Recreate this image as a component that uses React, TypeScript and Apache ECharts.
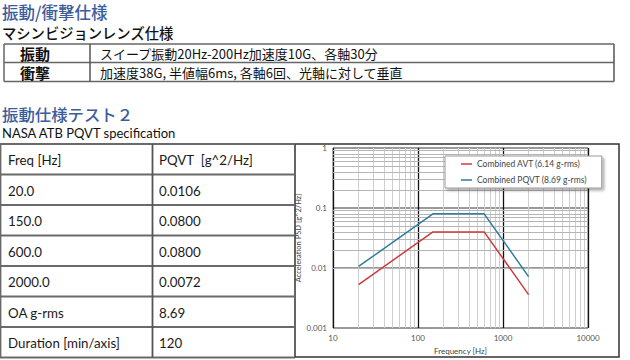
import React, { useEffect, useRef } from "react";
import * as echarts from "echarts";

// ---- data ----
const specTitle = "振動/衝撃仕様";
const specSubtitle = "マシンビジョンレンズ仕様";
const specLabels = ["振動", "衝撃"];
const specValues = [
  "スイープ振動20Hz-200Hz加速度10G、各軸30分",
  "加速度38G, 半値幅6ms, 各軸6回、光軸に対して垂直",
];
const testTitle = "振動仕様テスト２";
const testSubtitle = "NASA ATB PQVT specification";
const tableHeader = ["Freq [Hz]", "PQVT  [g^2/Hz]"];
const freqs = [20, 150, 600, 2000];
const pqvt = [0.0106, 0.08, 0.08, 0.0072];
const avt = [0.0053, 0.04, 0.04, 0.0036];
const oaGrms = 8.69;
const avtGrms = 6.14;
const durationMin = 120;
const xTicks = [10, 100, 1000, 10000];
const yTicks = [0.001, 0.01, 0.1, 1];
const minorX = [20, 30, 40, 50, 60, 70, 80, 90, 200, 300, 400, 500, 600, 700, 800, 900, 2000, 3000, 4000, 5000, 6000, 7000, 8000, 9000];
const minorY = [0.002, 0.003, 0.004, 0.005, 0.006, 0.007, 0.008, 0.009, 0.02, 0.03, 0.04, 0.05, 0.06, 0.07, 0.08, 0.09, 0.2, 0.3, 0.4, 0.5, 0.6, 0.7, 0.8, 0.9];

const JP = '"Noto Sans CJK JP", sans-serif';
const LAT = 'Lato, "Open Sans", sans-serif';
const BLUE_TITLE = "#3c5c9c";

export default function App() {
  const ref = useRef<HTMLDivElement>(null);
  useEffect(() => {
    if (!ref.current) return;
    const chart = echarts.init(ref.current, undefined, { renderer: "svg" });

    const graphics: any[] = [];
    const text = (t: string, x: number, y: number, size: number, family: string, fill: string, weight: any = "normal", lh?: number) =>
      graphics.push({
        type: "text",
        x,
        y,
        style: { text: t, fontSize: size, lineHeight: lh ?? size, fontFamily: family, fill, fontWeight: weight, verticalAlign: "middle", align: "left" },
      });
    const line = (x1: number, y1: number, x2: number, y2: number, stroke: string, w: number) =>
      graphics.push({ type: "line", shape: { x1, y1, x2, y2 }, style: { stroke, lineWidth: w } });

    // Section 1
    text(specTitle, 2, 12, 16.5, JP, BLUE_TITLE, 500, 14);
    text(specSubtitle, 2, 32, 14.3, JP, "#111", 500, 12);
    const t1Rows = [44, 62.5, 81.5];
    const t1L = 4, t1M = 90, t1R = 614;
    t1Rows.forEach((y) => line(t1L, y, t1R, y, "#666", 1.5));
    line(t1L, t1Rows[0], t1L, t1Rows[2], "#666", 1.5);
    line(t1M, t1Rows[0], t1M, t1Rows[2], "#555", 1.5);
    line(t1R, t1Rows[0], t1R, t1Rows[2], "#555", 1.5);
    specLabels.forEach((lab, i) => {
      const cy = (t1Rows[i] + t1Rows[i + 1]) / 2 + 0.5;
      text(lab, 20, cy, 15, JP, "#111", 700, 12);
      text(specValues[i], 100, cy, 13, JP, "#111", "normal", 12);
    });

    // Section 2
    text(testTitle, 2, 114, 16.4, JP, BLUE_TITLE, 500, 14);
    text(testSubtitle, 2, 133, 13, LAT, "#111", "normal", 12);
    const rows: string[][] = [
      tableHeader,
      ...freqs.map((f, i) => [f.toFixed(1), pqvt[i].toFixed(4)]),
      ["OA g-rms", String(oaGrms)],
      ["Duration [min/axis]", String(durationMin)],
    ];
    const rowH = 30.5;
    const t2Top = 144;
    const t2L = 0, t2M = 152.5, t2R = 295;
    for (let i = 0; i <= rows.length; i++) line(t2L, t2Top + i * rowH, t2R, t2Top + i * rowH, "#6a6a6a", 1.8);
    line(t2L + 0.5, t2Top, t2L + 0.5, t2Top + rows.length * rowH, "#6a6a6a", 1.8);
    line(t2M, t2Top, t2M, t2Top + rows.length * rowH, "#555", 1.8);
    rows.forEach((r, i) => {
      const cy = t2Top + i * rowH + rowH / 2 + 1;
      text(r[0], 8, cy, 13.3, LAT, "#1a1a1a");
      text(r[1], 159, cy, 13.3, LAT, "#1a1a1a");
    });

    // chart frame
    graphics.push({
      type: "rect",
      shape: { x: 295, y: 144, width: 324, height: 213 },
      style: { fill: "none", stroke: "#333", lineWidth: 1.5 },
      z: -1,
    });

    const fmt = (v: number) => String(+Number(v).toPrecision(3));

    chart.setOption({
      animation: false,
      graphic: graphics,
      grid: { left: 333, top: 148, width: 255, height: 185, show: true, borderColor: "#8a8a8a", borderWidth: 1, backgroundColor: "#fff" },
      legend: {
        orient: "vertical",
        left: 445,
        top: 156,
        backgroundColor: "#fff",
        borderColor: "#9a9a9a",
        borderWidth: 1,
        shadowBlur: 3,
        shadowColor: "rgba(0,0,0,0.35)",
        shadowOffsetX: 2,
        shadowOffsetY: 2,
        padding: [3, 15, 3, 16],
        itemGap: 6,
        itemWidth: 11,
        itemHeight: 1.5,
        icon: "rect",
        textStyle: { fontSize: 8.5, lineHeight: 10, color: "#444", fontFamily: LAT },
        data: [`Combined AVT (${avtGrms} g-rms)`, `Combined PQVT (${oaGrms} g-rms)`],
      },
      xAxis: {
        type: "log",
        logBase: 10,
        min: xTicks[0],
        max: xTicks[xTicks.length - 1],
        name: "Frequency [Hz]",
        nameLocation: "middle",
        nameGap: 19,
        nameTextStyle: { fontSize: 8, color: "#444", fontFamily: LAT },
        axisLine: { show: false },
        axisTick: { show: false },
        axisLabel: { fontSize: 8, color: "#555", margin: 6, fontFamily: LAT, formatter: fmt },
        splitLine: { show: true, lineStyle: { color: "#111", width: 1.3 } },
      },
      yAxis: {
        type: "log",
        logBase: 10,
        min: yTicks[0],
        max: yTicks[yTicks.length - 1],
        name: "Acceleration PSD [g^2/Hz]",
        nameLocation: "middle",
        nameGap: 29,
        nameTextStyle: { fontSize: 7.5, color: "#444", fontFamily: LAT },
        axisLine: { show: false },
        axisTick: { show: false },
        axisLabel: { fontSize: 8, color: "#555", margin: 6, fontFamily: LAT, formatter: fmt },
        splitLine: { show: true, lineStyle: { color: "#999", width: 2 } },
      },
      series: [
        {
          type: "line",
          name: "grid-minor",
          data: [],
          silent: true,
          z: 1,
          markLine: {
            silent: true,
            symbol: "none",
            animation: false,
            z: 1,
            label: { show: false },
            emphasis: { disabled: true },
            data: [
              ...minorX.map((v) => ({ xAxis: v, lineStyle: { color: "#cfcfcf", width: 1, type: "solid" } })),
              ...minorY.map((v) => ({ yAxis: v, lineStyle: { color: "#b5b5b5", width: 1, type: "solid" } })),
            ],
          },
        },
        {
          type: "line",
          name: `Combined AVT (${avtGrms} g-rms)`,
          data: freqs.map((f, i) => [f, avt[i]]),
          showSymbol: false,
          symbol: "none",
          z: 10,
          lineStyle: { color: "#cf3a3c", width: 1.5 },
          itemStyle: { color: "#cf3a3c" },
        },
        {
          type: "line",
          name: `Combined PQVT (${oaGrms} g-rms)`,
          data: freqs.map((f, i) => [f, pqvt[i]]),
          showSymbol: false,
          symbol: "none",
          z: 10,
          lineStyle: { color: "#2f7c9c", width: 1.5 },
          itemStyle: { color: "#2f7c9c" },
        },
      ],
    });
    return () => chart.dispose();
  }, []);
  return <div ref={ref} style={{ position: "absolute", left: 0, top: 0, width: 630, height: 360 }} />;
}
